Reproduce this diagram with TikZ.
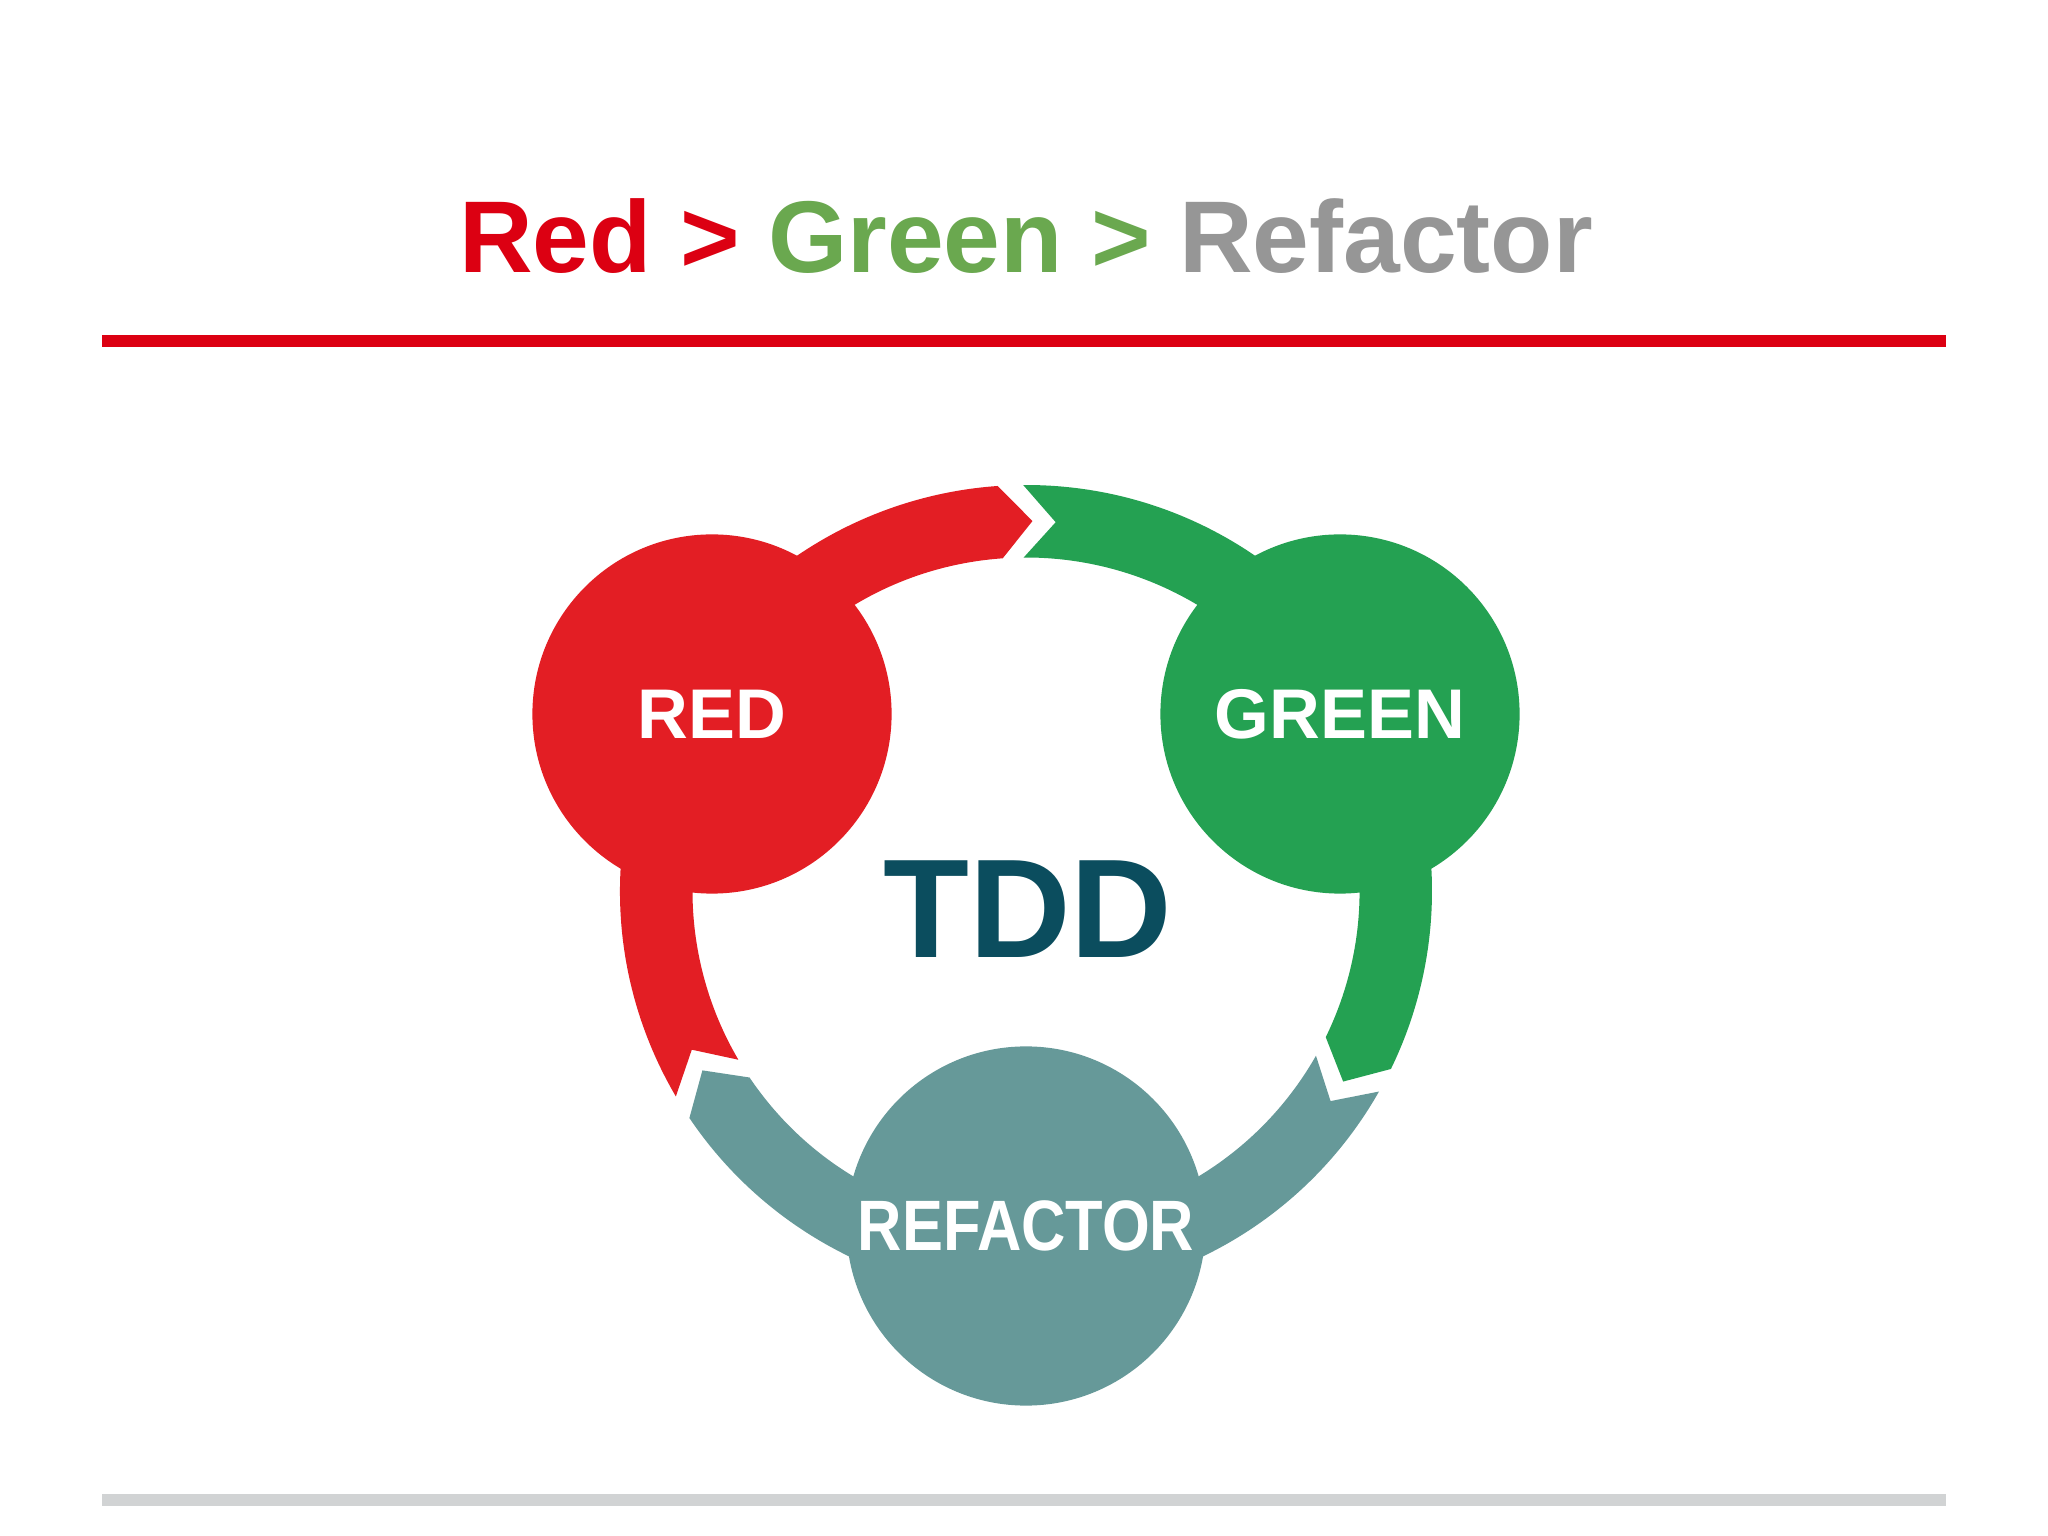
\documentclass[tikz,border=0pt]{standalone}
\usepackage{fontspec}
\setmainfont{Liberation Sans}
\usepackage{tikz}
\definecolor{titlered}{RGB}{220,0,18}
\definecolor{titlegreen}{RGB}{106,168,79}
\definecolor{titlegray}{RGB}{150,150,150}
\definecolor{redstage}{RGB}{227,30,36}
\definecolor{greenstage}{RGB}{36,161,82}
\definecolor{tealstage}{RGB}{102,153,153}
\definecolor{tddblue}{RGB}{11,77,94}
\definecolor{rulegray}{RGB}{209,211,212}
% one piece of the ring: tail angle, head angle
\newcommand{\ringpiece}[3]{%
  \fill[#1] (#2:406) arc[start angle=#2, end angle=#3, radius=406]
    -- ({#3-5}:370) -- (#3:333.5)
    arc[start angle=#3, end angle=#2, radius=333.5]
    -- ({#2-5}:370) -- cycle;}
\begin{document}
\begin{tikzpicture}[x=0.01cm, y=0.01cm,
    stage/.style={circle, minimum size=3.59cm, inner sep=0pt, text=white,
      font=\bfseries\fontsize{20}{24}\selectfont},
    rulebar/.style={line width=1.17mm, line cap=butt}]
        \useasboundingbox (0,0) rectangle (2048,1536);
        \fill[white] (0,0) rectangle (2048,1536);
        \node[anchor=base, inner sep=0pt, font=\bfseries\fontsize{29}{34}\selectfont] (title) at (1026,1263)
            {\textcolor{titlered}{Red >} \textcolor{titlegreen}{Green >} \textcolor{titlegray}{Refactor}};
        \coordinate (ruleL) at (102,1195);
        \coordinate (ruleR) at (1946,1195);
        \draw[rulebar, titlered] (ruleL) -- (ruleR);
        \coordinate (footL) at (102,36);
        \coordinate (footR) at (1946,36);
        \draw[rulebar, rulegray] (footL) -- (footR);
        \begin{scope}[shift={(1026,645)}]
            \ringpiece{redstage}{210.4}{94}
            \ringpiece{greenstage}{90.4}{-26}
            \ringpiece{tealstage}{-29.6}{-146}
        \end{scope}
        \node[stage, fill=redstage] (red) at (712,822) {RED};
        \node[stage, fill=greenstage] (green) at (1340,822) {GREEN};
        \node[stage, fill=tealstage] (refactor) at (1026,310) {\scalebox{0.86}[1]{\fontsize{20.3}{24}\selectfont REFACTOR}};
        \node[inner sep=0pt, text=tddblue, font=\bfseries\fontsize{40}{48}\selectfont] (tdd) at (1028,627) {TDD};
    \end{tikzpicture}
\end{document}
